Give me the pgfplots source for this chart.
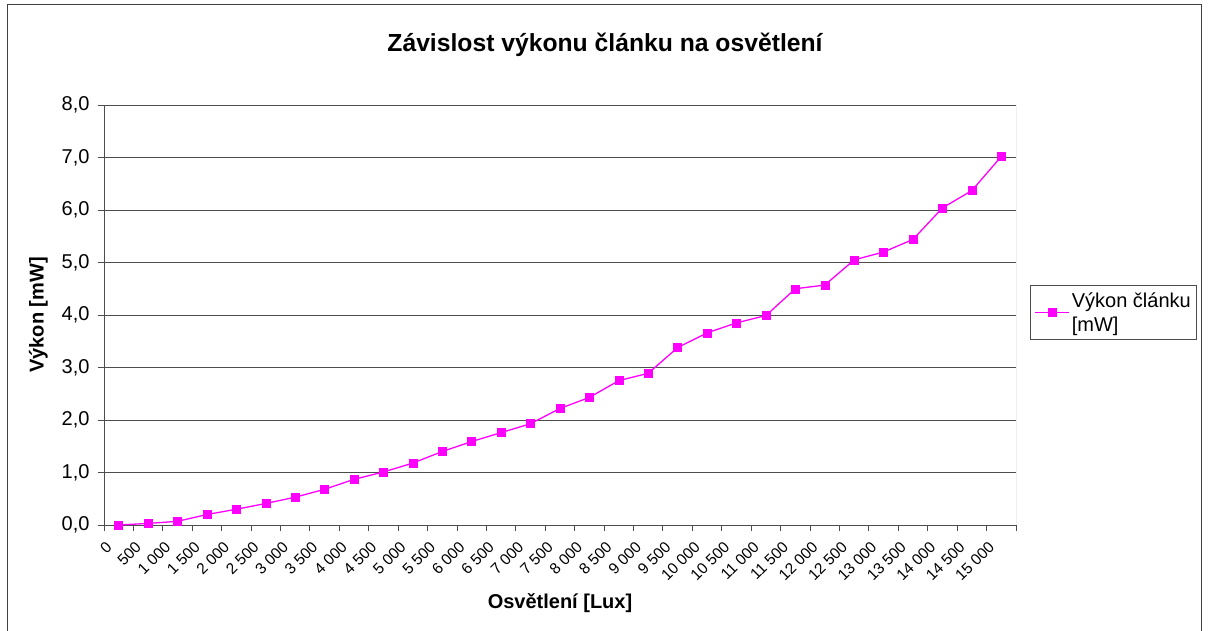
\documentclass[border=0pt]{standalone}
\usepackage{fontspec}
\setmainfont{Liberation Sans}
\usepackage{pgfplots}
\pgfplotsset{compat=1.18}
\definecolor{gridc}{HTML}{4D4D4D}
\definecolor{serie}{HTML}{FF00FF}

\begin{document}
\begin{tikzpicture}[x=1pt,y=1pt]
\useasboundingbox (0,0) rectangle (1210,630);
\draw[color=black!75, line width=1pt] (7,-2) -- (7,625) -- (1201,625) -- (1201,-2);
\begin{axis}[
    at={(104pt,105pt)}, anchor=south west,
    width=912pt, height=420pt, scale only axis,
    xmin=-0.5, xmax=30.5, ymin=0, ymax=8,
    axis x line*=bottom, axis y line*=left,
    axis line style={draw=gridc, line width=1pt, -},
    tick align=outside, major tick length=6pt, minor tick length=6pt,
    tick style={draw=gridc, line width=1pt},
    xtick={0,...,30},
    xticklabels={0,500,1 000,1 500,2 000,2 500,3 000,3 500,4 000,4 500,5 000,5 500,6 000,6 500,7 000,7 500,8 000,8 500,9 000,9 500,10 000,10 500,11 000,11 500,12 000,12 500,13 000,13 500,14 000,14 500,15 000},
    major x tick style={draw=none},
    minor xtick={-0.5,0.5,...,30.5},
    xticklabel style={rotate=45, anchor=north east, font=\fontsize{15.5}{18}\selectfont, xshift=-12.8pt, yshift=6.6pt},
    ytick={0,1,...,8},
    yticklabel style={font=\fontsize{20}{24}\selectfont, xshift=-5pt,
        /pgf/number format/.cd, fixed, fixed zerofill, precision=1, use comma, assume math mode=true},
    ymajorgrids, major grid style={draw=gridc, line width=1pt},
    ylabel={Výkon [mW]},
    ylabel style={font=\bfseries\fontsize{20}{24}\selectfont, at={(axis description cs:-0.072,0.5)}, anchor=center},
    xlabel={Osvětlení [Lux]},
    xlabel style={font=\bfseries\fontsize{20}{24}\selectfont, at={(axis description cs:0.5,-0.186)}, anchor=center},
    legend style={at={(axis description cs:1.0154,0.5714)}, anchor=north west,
        draw=gridc, line width=1pt, font=\fontsize{20}{24}\selectfont,
        cells={align=left}, inner xsep=4pt, inner ysep=5pt},
    legend cell align=left,
    legend image code/.code={\draw[mark repeat=2,mark phase=2] plot coordinates {(0pt,0pt) (17pt,0pt) (34pt,0pt)};},
]
\addplot[color=serie, line width=1.3pt, mark=square*, mark size=4pt, mark options={fill=serie, draw=serie, line width=0.5pt}]
coordinates {
(0,0.00) (1,0.03) (2,0.07) (3,0.20) (4,0.30) (5,0.41) (6,0.53) (7,0.68)
(8,0.87) (9,1.01) (10,1.18) (11,1.40) (12,1.59) (13,1.76) (14,1.93)
(15,2.22) (16,2.43) (17,2.75) (18,2.89) (19,3.38) (20,3.66) (21,3.85)
(22,3.99) (23,4.50) (24,4.57) (25,5.05) (26,5.20) (27,5.44) (28,6.04)
(29,6.37) (30,7.02)
};
\addlegendentry{Výkon článku\\{}[mW]}
\draw[color=gray, line width=1pt] (rel axis cs:1,0) -- (rel axis cs:1,1);
\end{axis}
\node[font=\bfseries\fontsize{24.7}{28}\selectfont] at (605,585) {Závislost výkonu článku na osvětlení};
\end{tikzpicture}
\end{document}
